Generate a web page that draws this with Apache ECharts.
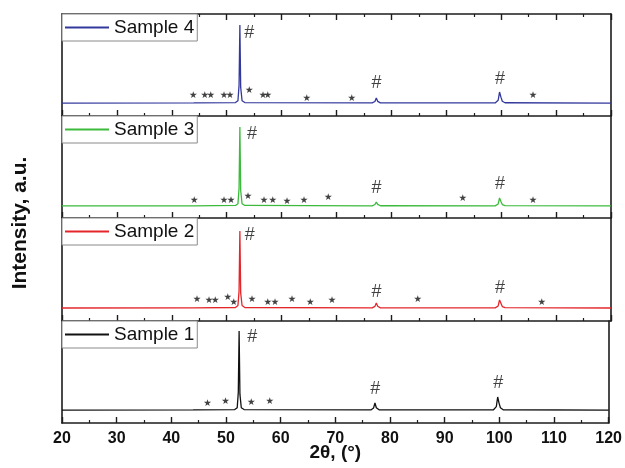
<!DOCTYPE html>
<html>
<head>
<meta charset="utf-8">
<script src="https://cdn.jsdelivr.net/npm/echarts@6/dist/echarts.min.js"></script>
<style>html,body{margin:0;padding:0;background:#fff}#c{width:625px;height:468px}</style>
</head>
<body>
<div id="c"></div>
<script>
// ---- data (2θ in degrees, intensity in panel units 0-100) ----
const sampleNames = ['Sample 4', 'Sample 3', 'Sample 2', 'Sample 1'];
const xTickLabels = [20, 30, 40, 50, 60, 70, 80, 90, 100, 110, 120];
const twoTheta = [20, 44, 51.6, 52.05, 52.25, 52.4, 52.55, 52.8, 53.3, 76.5, 77.0, 77.25, 77.5, 78.0, 98.9, 99.45, 99.7, 99.95, 100.2, 100.7, 120];
const sample4 = [12.7, 12.8, 13.2, 15, 30, 89.2, 28, 15, 13.2, 12.8, 14.2, 17.6, 14.4, 12.9, 12.8, 15.5, 23.5, 18.5, 14.5, 13, 12.7];
const sample3 = [11.8, 11.9, 12.3, 14, 29, 89.2, 27, 14, 12.3, 11.9, 13.2, 15.7, 13.3, 12.0, 11.9, 13.8, 19.6, 16.2, 13.2, 12.1, 11.8];
const sample2 = [12.6, 12.7, 13.1, 15, 29, 87.4, 27, 15, 13.1, 12.7, 14.2, 17.5, 14.3, 12.8, 12.7, 14.6, 20.4, 17.2, 14.0, 12.9, 12.6];
const sample1 = [12.7, 12.8, 13.2, 15, 30, 90.2, 28, 15, 13.2, 12.8, 14.8, 19.6, 15.0, 12.9, 12.8, 16.0, 25.5, 19.5, 15.0, 13.0, 12.7];
// star (*) annotation positions [2θ, height]
const stars4 = [[43.9,19.6],[46.0,19.6],[47.1,19.6],[49.5,19.6],[50.6,19.6],[54.1,24.5],[56.6,19.6],[57.5,19.6],[64.6,16.7],[72.8,17.6],[105.8,19.6]];
const stars3 = [[44.1,17.6],[49.5,17.6],[50.8,17.6],[53.9,20.6],[56.8,17.6],[58.4,17.6],[61.0,15.7],[64.1,17.6],[68.5,19.6],[93.0,18.6],[105.8,17.6]];
const stars2 = [[44.6,20.4],[46.8,19.4],[47.9,19.4],[50.2,22.3],[51.3,18.4],[54.6,20.4],[57.5,18.4],[58.8,18.4],[61.9,20.4],[65.2,18.4],[69.2,19.4],[84.8,20.4],[107.4,17.5]];
const stars1 = [[46.6,18.6],[49.9,20.6],[54.6,19.6],[58.0,20.6]];
// hash (#) annotation positions [2θ, height]
const hash4 = [[54.1,81.4],[77.3,32.4],[99.8,36.3]];
const hash3 = [[54.6,82.4],[77.3,29.4],[99.8,33.3]];
const hash2 = [[54.2,83.5],[77.3,28.2],[99.8,32.0]];
const hash1 = [[54.8,84.3],[77.3,33.3],[99.8,39.2]];

const profiles = [sample4, sample3, sample2, sample1];
const starSets = [stars4, stars3, stars2, stars1];
const hashSets = [hash4, hash3, hash2, hash1];
const colors = ['#33399c', '#3cba3c', '#e4262b', '#111111'];

const gridTops = [14, 116, 218, 321];
const gridHeights = [102, 102, 103, 102];
const FONT = 'Liberation Sans, Arial, sans-serif';
const axisColor = '#1c1c1c';

const grids = [], xAxes = [], yAxes = [], series = [], legends = [];
for (let i = 0; i < 4; i++) {
  grids.push({left: 62, width: 549, top: gridTops[i], height: gridHeights[i]});
  const xBase = {
    gridIndex: i, type: 'value', min: 20, max: 120, interval: 10,
    axisLine: {show: true, onZero: false, lineStyle: {color: axisColor, width: 1.6}},
    axisTick: {show: true, inside: true, length: 6, lineStyle: {color: axisColor, width: 1.4}},
    minorTick: {show: true, splitNumber: 2, length: 3, lineStyle: {color: axisColor, width: 1.2}},
    splitLine: {show: false}, minorSplitLine: {show: false}
  };
  xAxes.push(Object.assign({}, xBase, {
    position: 'bottom',
    axisLabel: {show: i === 3, fontFamily: FONT, fontWeight: 'bold', fontSize: 16, color: '#111', margin: 8,
      formatter: v => (xTickLabels.indexOf(v) >= 0 ? String(v) : '')},
    name: i === 3 ? '2θ, (°)' : '', nameLocation: 'middle', nameGap: 20, nameMoveOverlap: false,
    nameTextStyle: {fontFamily: FONT, fontWeight: 'bold', fontSize: 19, color: '#111'}
  }));
  const yBase = {gridIndex: i, type: 'value', min: 0, max: 100,
    axisLine: {show: true, onZero: false, lineStyle: {color: axisColor, width: 1.6}},
    axisTick: {show: false}, axisLabel: {show: false}, splitLine: {show: false}};
  yAxes.push(Object.assign({}, yBase, {position: 'left'}));
  yAxes.push(Object.assign({}, yBase, {position: 'right'}));

  series.push({
    name: sampleNames[i], type: 'line', xAxisIndex: i, yAxisIndex: 2 * i,
    data: twoTheta.map((x, k) => [x, profiles[i][k]]),
    showSymbol: false, symbol: 'none', silent: true, z: 3,
    lineStyle: {color: colors[i], width: 1.3}, itemStyle: {color: colors[i]}
  });
  series.push({
    type: 'scatter', xAxisIndex: i, yAxisIndex: 2 * i, data: starSets[i], silent: true,
    symbolSize: 1, itemStyle: {color: 'rgba(0,0,0,0)'}, z: 4,
    label: {show: true, position: 'inside', formatter: '★', fontFamily: 'DejaVu Sans', fontSize: 9.5, color: '#111'}
  });
  series.push({
    type: 'scatter', xAxisIndex: i, yAxisIndex: 2 * i, data: hashSets[i], silent: true,
    symbolSize: 1, itemStyle: {color: 'rgba(0,0,0,0)'}, z: 4,
    label: {show: true, position: 'inside', formatter: '#', fontFamily: FONT, fontSize: 18, color: '#111'}
  });
  legends.push({
    data: [sampleNames[i]], left: 62, top: gridTops[i], orient: 'horizontal',
    icon: 'rect', itemWidth: 44, itemHeight: 2, itemGap: 0,
    padding: [4, 3, 4, 3], borderColor: '#8a8a8a', borderWidth: 1, backgroundColor: '#fff',
    selectedMode: false, z: 10,
    textStyle: {fontFamily: FONT, fontSize: 19, color: '#111'}
  });
}
// top frame axis of the upper panel
xAxes.push({
  gridIndex: 0, type: 'value', min: 20, max: 120, interval: 10, position: 'top',
  axisLine: {show: true, onZero: false, lineStyle: {color: axisColor, width: 1.6}},
  axisTick: {show: true, inside: true, length: 6, lineStyle: {color: axisColor, width: 1.4}},
  minorTick: {show: true, splitNumber: 2, length: 3, lineStyle: {color: axisColor, width: 1.2}},
  axisLabel: {show: false}, splitLine: {show: false}
});

const chart = echarts.init(document.getElementById('c'), null, {renderer: 'canvas'});
chart.setOption({
  animation: false,
  backgroundColor: '#fff',
  grid: grids, xAxis: xAxes, yAxis: yAxes, series: series, legend: legends,
  graphic: [{
    type: 'text', x: 20, y: 223, rotation: Math.PI / 2,
    style: {text: 'Intensity, a.u.', font: 'bold 21px ' + FONT, fill: '#111', align: 'center', verticalAlign: 'middle'}
  }]
});
</script>
</body>
</html>
